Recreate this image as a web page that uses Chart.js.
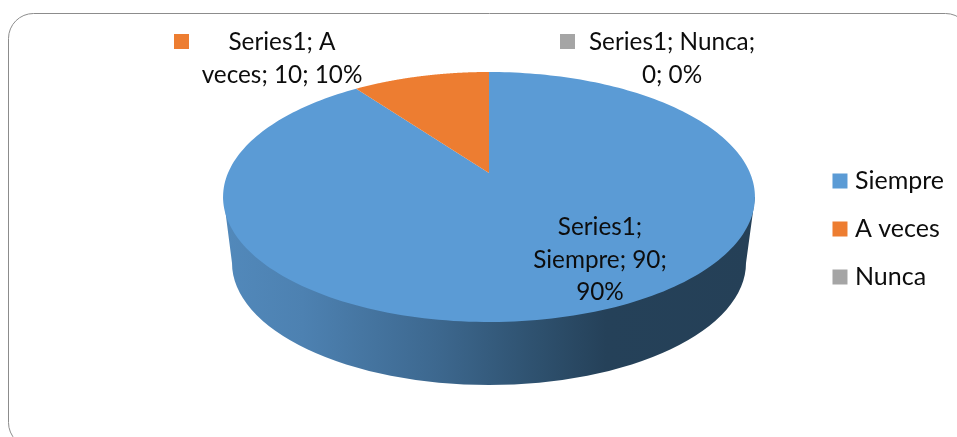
<!DOCTYPE html>
<html>
<head>
<meta charset="utf-8">
<style>
html, body { margin: 0; padding: 0; background: #fff; }
#wrap { position: relative; width: 957px; height: 437px; overflow: hidden; }
</style>
<script src="https://cdn.jsdelivr.net/npm/chart.js@4"></script>
</head>
<body>
<div id="wrap"><canvas id="pieChart" width="957" height="437"></canvas></div>
<script>
// chart values
const seriesName = 'Series1';
const categories = ['Siempre', 'A veces', 'Nunca'];
const values = [90, 10, 0];
const sliceColors = ['#5b9bd5', '#ed7d31', '#a5a5a5'];

// where each data label goes, one line per row
const labelLines = [
    ['Series1;', 'Siempre; 90;', '90%'],
    ['Series1; A', 'veces; 10; 10%'],
    ['Series1; Nunca;', '0; 0%']
];
const labelPos = [
    { x: 600, y: 235 },
    { x: 282, y: 50, key: { x: 174, y: 34 } },
    { x: 672, y: 50, key: { x: 560, y: 34 } }
];

const FONT = 'Lato, "Open Sans", sans-serif';
const FONT_SIZE = 24.3;
const LEGEND_FONT_SIZE = 25;

// perspective of the pie top, unit circle -> screen
const persp = { cx: 489, cy: 173, A: 261, B: 120.4, k: 0.192 };

function project(angle) {
    const a = Math.cos(angle);
    const b = -Math.sin(angle);
    const w = 1 + persp.k * b;
    return { x: persp.cx + persp.A * a / w, y: persp.cy - persp.B * b / w };
}

function drawFrame(ctx) {
    ctx.save();
    ctx.strokeStyle = '#8c8c8c';
    ctx.lineWidth = 1;
    ctx.beginPath();
    ctx.roundRect(8.5, 13.5, 962, 434, 25);
    ctx.stroke();
    ctx.restore();
}

function drawWall(ctx) {
    const grad = ctx.createLinearGradient(223, 0, 755, 0);
    grad.addColorStop(0, '#5289bb');
    grad.addColorStop(0.15, '#4d81b1');
    grad.addColorStop(0.4, '#3d688f');
    grad.addColorStop(0.58, '#2f5270');
    grad.addColorStop(0.72, '#254159');
    grad.addColorStop(1, '#254057');
    ctx.fillStyle = grad;
    ctx.beginPath();
    ctx.moveTo(223.5, 197);
    ctx.lineTo(232, 263);
    ctx.ellipse(489, 263, 257, 122, 0, Math.PI, 0, true);
    ctx.lineTo(755, 197);
    ctx.closePath();
    ctx.fill();
}

function drawSlice(ctx, arc, color) {
    const steps = 240;
    ctx.fillStyle = color;
    ctx.beginPath();
    ctx.moveTo(persp.cx, persp.cy);
    for (let i = 0; i <= steps; i++) {
        const p = project(arc.startAngle + (arc.endAngle - arc.startAngle) * i / steps);
        ctx.lineTo(p.x, p.y);
    }
    ctx.closePath();
    ctx.fill();
}

function drawLabels(ctx) {
    ctx.font = FONT_SIZE + 'px ' + FONT;
    ctx.fillStyle = '#0d0d0d';
    ctx.textAlign = 'center';
    ctx.textBaseline = 'alphabetic';
    labelLines.forEach(function (lines, i) {
        const pos = labelPos[i];
        lines.forEach(function (line, j) {
            ctx.fillText(line, pos.x, pos.y + j * 32.5);
        });
        if (pos.key) {
            ctx.save();
            ctx.fillStyle = sliceColors[i];
            ctx.fillRect(pos.key.x, pos.key.y, 15, 15);
            ctx.restore();
        }
    });
}

const pie3d = {
    id: 'pie3d',
    beforeDraw(chart) {
        drawFrame(chart.ctx);
    },
    // the library works out the arcs, we only project them
    beforeDatasetDraw(chart, args) {
        const ctx = chart.ctx;
        const arcs = chart.getDatasetMeta(args.index).data;
        ctx.save();
        drawWall(ctx);
        arcs.forEach(function (arc, i) {
            if (arc.endAngle - arc.startAngle > 0) {
                drawSlice(ctx, arc, sliceColors[i]);
            }
        });
        ctx.restore();
        return false;
    },
    afterDatasetsDraw(chart) {
        drawLabels(chart.ctx);
    }
};

const pieChart = new Chart(document.getElementById('pieChart'), {
    type: 'pie',
    data: {
        labels: categories,
        datasets: [{
            label: seriesName,
            data: values,
            backgroundColor: sliceColors,
            borderWidth: 0
        }]
    },
    options: {
        responsive: false,
        animation: false,
        layout: { padding: { top: 21, right: 3 } },
        plugins: {
            tooltip: { enabled: false },
            legend: {
                position: 'right',
                labels: {
                    usePointStyle: true,
                    pointStyle: 'rect',
                    boxWidth: 5,
                    boxHeight: 15,
                    padding: 23,
                    color: '#0d0d0d',
                    font: { family: FONT, size: LEGEND_FONT_SIZE }
                }
            }
        }
    },
    plugins: [pie3d]
});
</script>
</body>
</html>
